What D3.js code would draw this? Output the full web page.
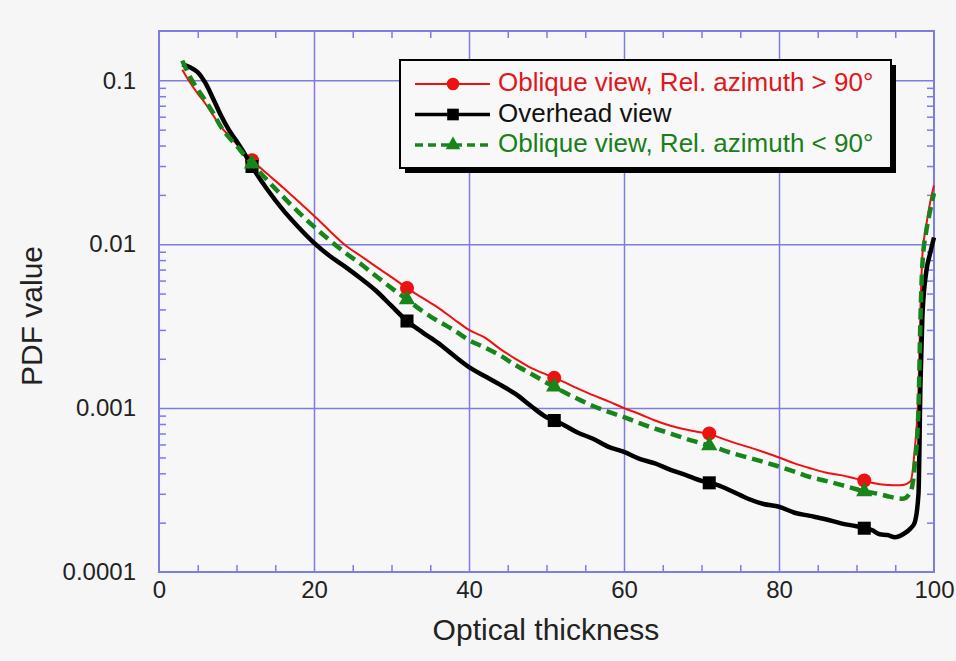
<!DOCTYPE html>
<html>
<head>
<meta charset="utf-8">
<script src="https://cdn.jsdelivr.net/npm/d3@7/dist/d3.min.js"></script>
<style>
body { margin: 0; background: #f6f6f6; }
text { font-family: "Liberation Sans", Arial, Helvetica, sans-serif; }
</style>
</head>
<body>
<svg id="chart" width="956" height="661"></svg>
<script>
// optical thickness (x) sample positions
var thickness = [3,4,5,6,7,8,9,10,11,12,
	14,16,18,20,22,24,26,28,30,32,34,36,38,40,42,44,46,48,50,
	51,
	52,54,56,58,60,62,64,66,68,70,
	71,
	72,74,76,78,80,82,84,86,88,90,
	91,
	92,93,94,95,96,97,
	97.5,98,98.25,98.5,99,99.5,100];

// Oblique view, rel. azimuth > 90
var obliqueHigh = [0.116,0.097,0.083,0.072,0.061,0.052,0.046,0.041,0.036,0.0325,
	0.0268,0.0222,0.0182,0.0149,0.0121,0.0099,0.0085,0.0073,0.0063,0.0054,0.0047,0.0041,0.0035,0.0030,0.0027,0.0023,0.0020,0.00176,0.0016,
	0.00153,
	0.00146,0.00132,0.0012,0.0011,0.0010,0.00092,0.00084,0.00078,0.00074,0.00071,
	0.0007,
	0.00067,0.00062,0.00058,0.00054,0.0005,0.00046,0.00043,0.000405,0.00039,0.00037,
	0.000362,
	0.00035,0.000343,0.00034,0.000338,0.00034,0.00036,
	0.00055,0.0013,0.004,0.0085,0.013,0.018,0.0228];

// Overhead view
var overhead = [0.125,0.12,0.112,0.096,0.077,0.061,0.050,0.0426,0.036,0.0298,
	0.0215,0.0162,0.0127,0.0102,0.0085,0.0073,0.0062,0.0052,0.0042,0.0034,0.0029,0.0025,0.0021,0.00178,0.00157,0.00139,0.00122,0.00103,0.00088,
	0.00084,
	0.0008,0.00071,0.00065,0.00058,0.00054,0.00049,0.00046,0.00042,0.00039,0.00036,
	0.00035,
	0.00034,0.00031,0.00028,0.00026,0.00025,0.00023,0.00022,0.00021,0.000198,0.00019,
	0.000185,
	0.00018,0.00017,0.000168,0.000163,0.00017,0.000185,
	0.0002,0.0003,0.0014,0.0036,0.0068,0.0088,0.011];

// Oblique view, rel. azimuth < 90
var obliqueLow = [0.132,0.105,0.088,0.075,0.063,0.052,0.045,0.040,0.035,0.031,
	0.0245,0.0195,0.0157,0.0128,0.0106,0.0089,0.0076,0.0064,0.0054,0.0046,0.0039,0.0034,0.0030,0.0026,0.00235,0.0021,0.00183,0.00162,0.00143,
	0.00135,
	0.00127,0.00114,0.00103,0.00095,0.00088,0.00081,0.00075,0.0007,0.00065,0.00061,
	0.00059,
	0.00057,0.00053,0.0005,0.00047,0.00044,0.00041,0.00038,0.00036,0.00034,0.00032,
	0.00031,
	0.000305,0.000298,0.00029,0.000283,0.00028,0.00031,
	0.00044,0.001,0.0035,0.0075,0.012,0.016,0.0205];

var markerX = [12, 32, 51, 71, 91];
var xTicks = [0, 20, 40, 60, 80, 100];
var yTicks = [0.0001, 0.001, 0.01, 0.1];
var yTickLabels = ["0.0001", "0.001", "0.01", "0.1"];
var seriesNames = ["Oblique view, Rel. azimuth > 90\u00b0", "Overhead view", "Oblique view, Rel. azimuth < 90\u00b0"];

var marginLeft = 159, marginTop = 31, width = 775, height = 541;
var gridColor = "#7c7ce2";

var svg = d3.select("#chart");
var g = svg.append("g").attr("transform", "translate(" + marginLeft + "," + marginTop + ")");

var x = d3.scaleLinear().domain([0, 100]).range([0, width]);
var y = d3.scaleLog().domain([0.0001, 0.2]).range([height, 0]);

g.append("rect").attr("width", width).attr("height", height).attr("fill", "#f7f7f7");

// grid lines
g.append("g").attr("class", "grid")
	.call(d3.axisBottom(x).tickValues([20, 40, 60, 80]).tickSize(height).tickFormat(""))
	.call(function(s) { s.select(".domain").remove(); });
g.append("g").attr("class", "grid")
	.call(d3.axisLeft(y).tickValues([0.001, 0.01, 0.1]).tickSize(-width).tickFormat(""))
	.call(function(s) { s.select(".domain").remove(); });

// minor ticks
var minorX = d3.range(5, 100, 5).filter(function(v) { return v % 20 != 0; });
var minorY = [];
[0.0001, 0.001, 0.01, 0.1].forEach(function(p) {
	for (var k = 2; k <= 9; k++) if (p * k < 0.2) minorY.push(p * k);
});
g.append("g").attr("class", "minor").attr("transform", "translate(0," + height + ")")
	.call(d3.axisTop(x).tickValues(minorX).tickSize(7).tickFormat(""));
g.append("g").attr("class", "minor")
	.call(d3.axisBottom(x).tickValues(minorX).tickSize(7).tickFormat(""));
g.append("g").attr("class", "minor")
	.call(d3.axisRight(y).tickValues(minorY).tickSize(7).tickFormat(""));
g.append("g").attr("class", "minor").attr("transform", "translate(" + width + ",0)")
	.call(d3.axisLeft(y).tickValues(minorY).tickSize(7).tickFormat(""));

g.selectAll(".grid line, .minor line").attr("stroke", gridColor).attr("stroke-width", 1.5);
g.selectAll(".minor .domain").remove();

// frame
g.append("rect").attr("width", width).attr("height", height)
	.attr("fill", "none").attr("stroke", gridColor).attr("stroke-width", 2);

// tick labels
var xAxis = g.append("g").attr("transform", "translate(0," + height + ")")
	.call(d3.axisBottom(x).tickValues(xTicks).tickSize(0).tickPadding(9));
var yAxis = g.append("g")
	.call(d3.axisLeft(y).tickValues(yTicks).tickSize(0).tickPadding(23)
		.tickFormat(function(d, i) { return yTickLabels[i]; }));
[xAxis, yAxis].forEach(function(a) {
	a.select(".domain").remove();
	a.attr("font-size", 24).attr("font-family", null);
	a.selectAll("text").attr("fill", "#222");
});

// axis titles
svg.append("text").attr("x", 546).attr("y", 640)
	.attr("text-anchor", "middle").attr("font-size", 30).attr("fill", "#222")
	.text("Optical thickness");
svg.append("text").attr("transform", "translate(42,316) rotate(-90)")
	.attr("text-anchor", "middle").attr("font-size", 30).attr("fill", "#222")
	.text("PDF value");

// series
var series = [
	{ name: seriesNames[0], values: obliqueHigh, color: "#ee1111", width: 2, dash: null, symbol: d3.symbolCircle, size: 155 },
	{ name: seriesNames[1], values: overhead, color: "#000000", width: 4.5, dash: null, symbol: d3.symbolSquare, size: 170 },
	{ name: seriesNames[2], values: obliqueLow, color: "#17861a", width: 4.5, dash: "11,6", symbol: d3.symbolTriangle, size: 115 }
];

var line = d3.line()
	.x(function(d) { return x(d[0]); })
	.y(function(d) { return y(d[1]); })
	.curve(d3.curveMonotoneX);

series.forEach(function(s) {
	var pts = thickness.map(function(t, i) { return [t, s.values[i]]; });
	g.append("path").attr("d", line(pts))
		.attr("fill", "none").attr("stroke", s.color).attr("stroke-width", s.width)
		.attr("stroke-dasharray", s.dash).attr("stroke-linejoin", "round");
	g.selectAll(null).data(pts.filter(function(p) { return markerX.indexOf(p[0]) >= 0; }))
		.enter().append("path")
		.attr("d", d3.symbol().type(s.symbol).size(s.size))
		.attr("transform", function(p) { return "translate(" + x(p[0]) + "," + y(p[1]) + ")"; })
		.attr("fill", s.color);
});

// legend
var lg = svg.append("g").attr("transform", "translate(400,60)");
lg.append("rect").attr("x", 5).attr("y", 5).attr("width", 491).attr("height", 108).attr("fill", "#000");
lg.append("rect").attr("width", 491).attr("height", 108)
	.attr("fill", "#f8f8f8").attr("stroke", "#000").attr("stroke-width", 2);
var textColors = ["#e0161c", "#111", "#1a7f1a"];
series.forEach(function(s, i) {
	var ly = 24 + i * 30.5;
	lg.append("line").attr("x1", 15).attr("x2", 90).attr("y1", ly).attr("y2", ly)
		.attr("stroke", s.color).attr("stroke-width", s.width > 2 ? 3.5 : 2)
		.attr("stroke-dasharray", s.dash ? "8,5" : null);
	lg.append("path").attr("d", d3.symbol().type(s.symbol).size(s.size * 0.8))
		.attr("transform", "translate(53," + ly + ")").attr("fill", s.color);
	lg.append("text").attr("x", 98).attr("y", ly + 7).attr("font-size", 26)
		.attr("fill", textColors[i]).text(s.name);
});
</script>
</body>
</html>
